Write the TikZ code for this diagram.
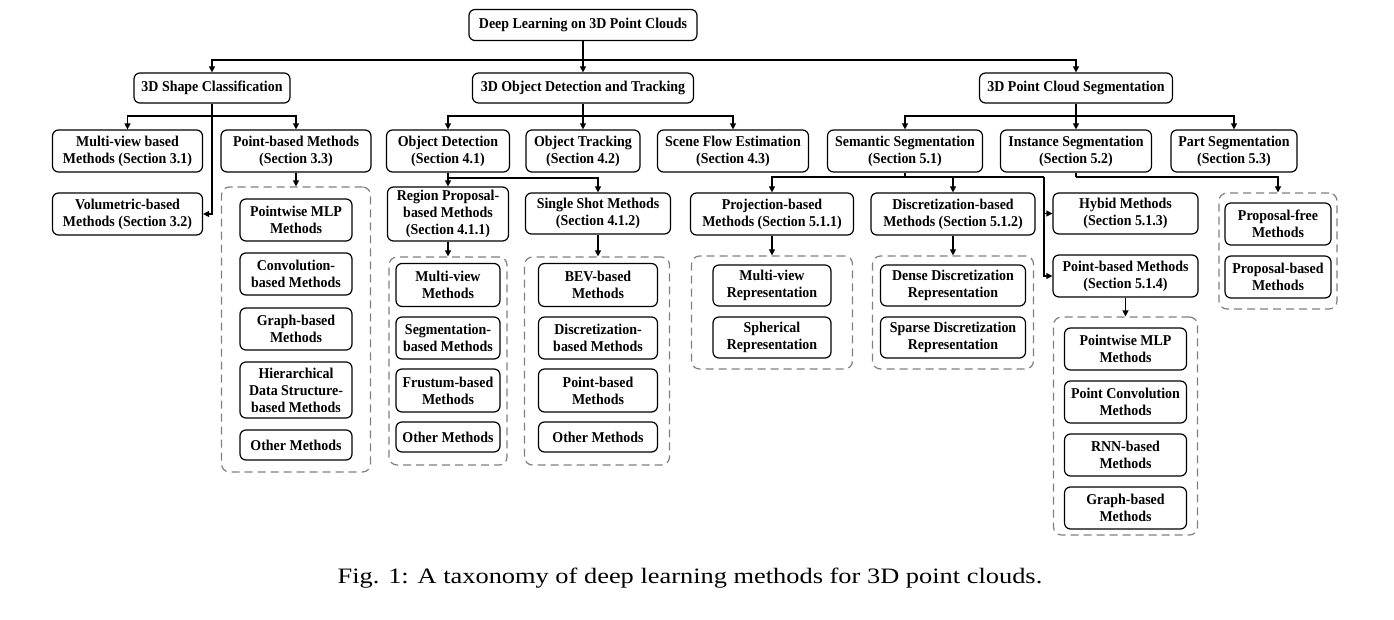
\documentclass[tikz,border=0pt]{standalone}
\usepackage{fontspec}
\setmainfont{Liberation Serif}
\newfontfamily\capfont[FakeStretch=1.2]{Liberation Serif}
\newfontfamily\boxfont[FakeStretch=0.93]{Liberation Serif}
\usetikzlibrary{arrows.meta}
\newcommand{\nf}{\boxfont\bfseries\fontsize{15}{17}\selectfont}
\begin{document}
\begin{tikzpicture}[x=1pt,y=-1pt,
  nd/.style={draw, line width=1.2pt, rounded corners=6pt, align=center, font=\nf, inner sep=1pt},
  wh/.style 2 args={minimum width=#1pt, minimum height=#2pt},
  grp/.style={draw=black!50, dash pattern=on 8pt off 5pt, line width=1.2pt, rounded corners=8pt},
  ln/.style={line width=1.2pt},
  arr/.style={line width=1.2pt, -{Triangle[length=6pt,width=6pt]}}]
\fill[white] (0,0) rectangle (1394,620);
\useasboundingbox (0,0) rectangle (1394,620);

% root and level 1
\node[nd, wh={228}{31}] (root) at (583,25) {Deep Learning on 3D Point Clouds};
\node[nd, wh={156}{30}] (shape) at (212,88) {3D Shape Classification};
\node[nd, wh={221}{30}] (obj) at (583,88) {3D Object Detection and Tracking};
\node[nd, wh={193}{30}] (seg) at (1076,88) {3D Point Cloud Segmentation};

% level 2
\node[nd, wh={150}{42}] (mv) at (127.5,151) {Multi-view based\\Methods (Section 3.1)};
\node[nd, wh={150}{42}] (vol) at (127.5,214) {Volumetric-based\\Methods (Section 3.2)};
\node[nd, wh={150}{42}] (pb) at (296,151) {Point-based Methods\\(Section 3.3)};
\node[nd, wh={123}{42}] (od) at (448,151) {Object Detection\\(Section 4.1)};
\node[nd, wh={114}{42}] (ot) at (583,151) {Object Tracking\\(Section 4.2)};
\node[nd, wh={151}{42}] (sf) at (733,151) {Scene Flow Estimation\\(Section 4.3)};
\node[nd, wh={155}{42}] (sem) at (905,151) {Semantic Segmentation\\(Section 5.1)};
\node[nd, wh={151}{42}] (ins) at (1076,151) {Instance Segmentation\\(Section 5.2)};
\node[nd, wh={126}{42}] (part) at (1234,151) {Part Segmentation\\(Section 5.3)};

% point-based group (3.3)
\node[grp, wh={149}{285}] (g1) at (296,329.5) {};
\node[nd, wh={112}{42}] (a1) at (296,220) {Pointwise MLP\\Methods};
\node[nd, wh={112}{42}] (a2) at (296,274) {Convolution-\\based Methods};
\node[nd, wh={112}{42}] (a3) at (296,329) {Graph-based\\Methods};
\node[nd, wh={112}{56}] (a4) at (296,390) {Hierarchical\\Data Structure-\\based Methods};
\node[nd, wh={112}{30}] (a5) at (296,445) {Other Methods};

% object detection children
\node[nd, wh={121}{54}] (rp) at (448,214) {Region Proposal-\\based Methods\\(Section 4.1.1)};
\node[nd, wh={145}{41}] (ss) at (598,213.5) {Single Shot Methods\\(Section 4.1.2)};

\node[grp, wh={118}{208}] (g2) at (448,361) {};
\node[nd, wh={104}{43}] (b1) at (448,285) {Multi-view\\Methods};
\node[nd, wh={104}{42}] (b2) at (448,338) {Segmentation-\\based Methods};
\node[nd, wh={104}{43}] (b3) at (448,390.5) {Frustum-based\\Methods};
\node[nd, wh={104}{30}] (b4) at (448,437) {Other Methods};

\node[grp, wh={145}{208}] (g3) at (597,361) {};
\node[nd, wh={119}{43}] (c1) at (598,285) {BEV-based\\Methods};
\node[nd, wh={119}{42}] (c2) at (598,338) {Discretization-\\based Methods};
\node[nd, wh={119}{43}] (c3) at (598,390.5) {Point-based\\Methods};
\node[nd, wh={119}{30}] (c4) at (598,437) {Other Methods};

% semantic segmentation children
\node[nd, wh={163}{42}] (proj) at (772,214) {Projection-based\\Methods (Section 5.1.1)};
\node[nd, wh={164}{42}] (disc) at (953,214) {Discretization-based\\Methods (Section 5.1.2)};
\node[nd, wh={145}{41}] (hyb) at (1125.5,213.5) {Hybid Methods\\(Section 5.1.3)};
\node[nd, wh={145}{42}] (pbs) at (1125.5,276) {Point-based Methods\\(Section 5.1.4)};

\node[grp, wh={161}{113}] (g4) at (772,312.5) {};
\node[nd, wh={118}{41}] (d1) at (772,285.5) {Multi-view\\Representation};
\node[nd, wh={118}{41}] (d2) at (772,337.5) {Spherical\\Representation};

\node[grp, wh={161}{113}] (g5) at (953,312.5) {};
\node[nd, wh={145}{41}] (e1) at (953,285.5) {Dense Discretization\\Representation};
\node[nd, wh={145}{41}] (e2) at (953,337.5) {Sparse Discretization\\Representation};

\node[grp, wh={144}{218}] (g6) at (1125.5,426) {};
\node[nd, wh={122}{42}] (f1) at (1125.5,349) {Pointwise MLP\\Methods};
\node[nd, wh={122}{42}] (f2) at (1125.5,402) {Point Convolution\\Methods};
\node[nd, wh={122}{42}] (f3) at (1125.5,455) {RNN-based\\Methods};
\node[nd, wh={122}{42}] (f4) at (1125.5,508) {Graph-based\\Methods};

% instance segmentation children
\node[grp, wh={118}{116}] (g7) at (1278,251) {};
\node[nd, wh={106}{42}] (h1) at (1278,224) {Proposal-free\\Methods};
\node[nd, wh={106}{42}] (h2) at (1278,277) {Proposal-based\\Methods};

% connectors
\coordinate (j0) at (583,60);
\draw[arr] (root.south) -- (obj.north);
\draw[arr] (j0) -| (shape.north);
\draw[arr] (j0) -| (seg.north);

\coordinate (j1) at (212,116);
\draw[ln] (shape.south) -- (j1);
\draw[arr] (j1) -| (mv.north);
\draw[arr] (j1) -| (pb.north);
\draw[arr] (j1) |- (vol.east);
\draw[arr] (pb.south) -- (g1.north);

\coordinate (j2) at (583,116);
\draw[ln] (obj.south) -- (j2);
\draw[arr] (j2) -| (od.north);
\draw[arr] (j2) -- (ot.north);
\draw[arr] (j2) -| (sf.north);

\coordinate (j3) at (1076,116);
\draw[ln] (seg.south) -- (j3);
\draw[arr] (j3) -| (sem.north);
\draw[arr] (j3) -- (ins.north);
\draw[arr] (j3) -| (part.north);

\coordinate (j4) at (448,178);
\draw[ln] (od.south) -- (j4);
\draw[arr] (j4) -- (rp.north);
\draw[arr] (j4) -| (ss.north);
\draw[arr] (rp.south) -- (g2.north);
\draw[arr] (ss.south) -- (g3.north -| ss.south);

\coordinate (j5) at (905,177);
\coordinate (j6) at (1044,177);
\draw[ln] (sem.south) -- (j5);
\draw[arr] (j5) -| (proj.north);
\draw[arr] (j5) -| (disc.north);
\draw[ln] (j5) -- (j6);
\draw[arr] (j6) |- (hyb.west);
\draw[arr] (j6) |- (pbs.west);
\draw[arr] (proj.south) -- (g4.north);
\draw[arr] (disc.south) -- (g5.north);
\draw[arr] (pbs.south) -- (g6.north);

\coordinate (j7) at (1076,177);
\draw[ln] (ins.south) -- (j7);
\draw[arr] (j7) -| (g7.north);

% caption
\node[font=\capfont\fontsize{22}{26}\selectfont] (cap) at (690,578) {Fig. 1: A taxonomy of deep learning methods for 3D point clouds.};
\end{tikzpicture}
\end{document}
